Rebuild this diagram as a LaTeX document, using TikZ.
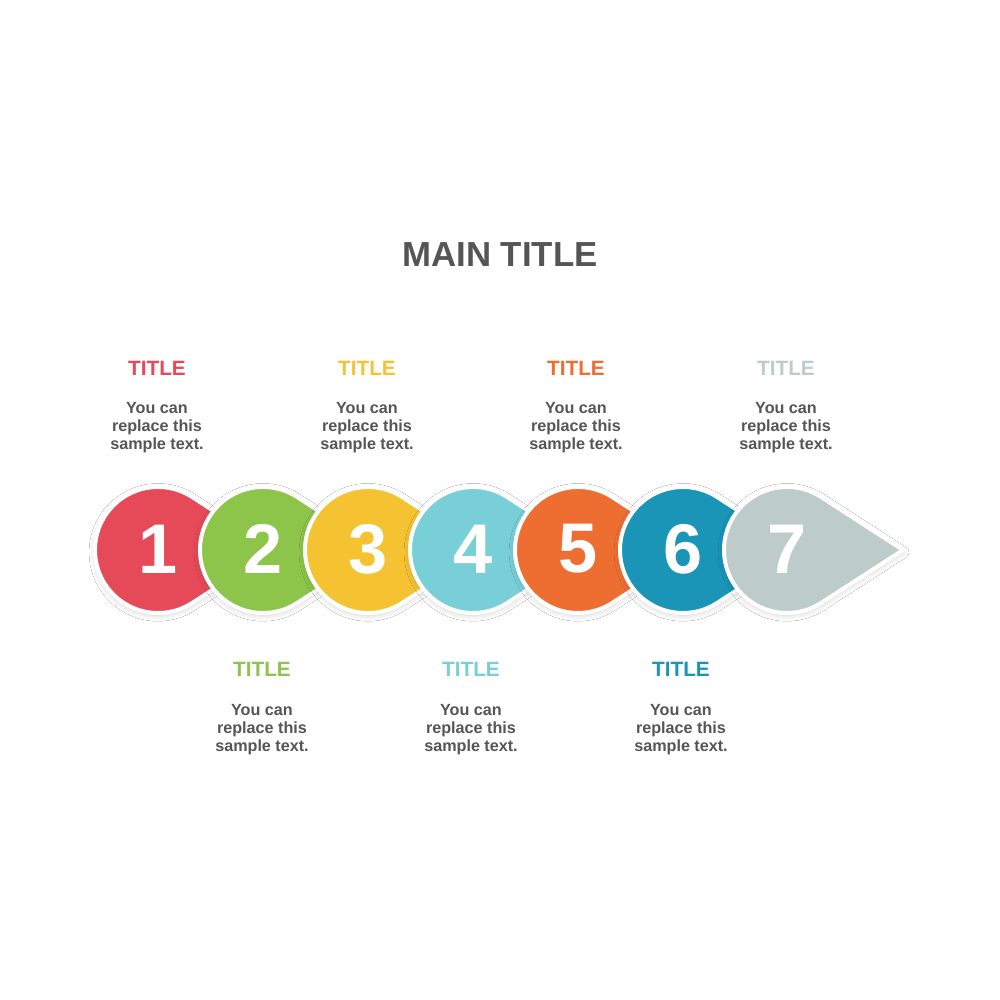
\documentclass[tikz,border=0pt]{standalone}
\usepackage{fontspec}
\setmainfont{Liberation Sans}
\usetikzlibrary{shadows.blur}
\definecolor{cred}{HTML}{E64A58}
\definecolor{cgreen}{HTML}{8DC44A}
\definecolor{cyellow}{HTML}{F5C332}
\definecolor{clblue}{HTML}{78CFD8}
\definecolor{corange}{HTML}{EE6E31}
\definecolor{cteal}{HTML}{1A94B7}
\definecolor{cgrey}{HTML}{BDCCCB}
\definecolor{txtgrey}{HTML}{555555}
\tikzset{
  drop/.style={draw=white, line width=3.4pt, line join=round,
    blur shadow={shadow xshift=0pt, shadow yshift=-2pt, shadow opacity=18, shadow blur radius=5pt, shadow blur steps=12}},
  numtext/.style={text=white, font=\bfseries\fontsize{60}{60}\selectfont, inner sep=0pt},
  ttl/.style={font=\bfseries\fontsize{17.7}{20}\selectfont, inner sep=0pt},
  body/.style={text=txtgrey, font=\bfseries\fontsize{13.8}{15.3}\selectfont, align=center, inner sep=0pt},
  maintitle/.style={text=txtgrey, font=\bfseries\fontsize{29.7}{32}\selectfont, inner sep=0pt}
}
\begin{document}
\begin{tikzpicture}[x=0.03cm,y=0.03cm]
\fill[white] (0,0) rectangle (1000,1000);
\useasboundingbox (0,0) rectangle (1000,1000);
\node[maintitle] (main) at (500,745) {MAIN TITLE};
% droplets
\foreach \i/\cx/\col in {1/158/cred,2/263/cgreen,3/368/cyellow,4/473/clblue,5/578/corange,6/683/cteal,7/787/cgrey}{
  \path[drop, fill=\col] (\cx,450) ++(57.1:63) arc[start angle=57.1, end angle=302.9, radius=63]
     -- (\cx+116,450) -- cycle;
  \node[numtext] (n\i) at (\cx,451) {\i};
}
% top texts
\foreach \i/\cx/\col in {1/157/cred,3/367/cyellow,5/576/corange,7/786/cgrey}{
  \node[ttl, text=\col] (t\i) at (\cx,632) {TITLE};
  \node[body] (d\i) at (\cx,572) {You can\\replace this\\sample text.};
}
% bottom texts
\foreach \i/\cx/\col in {2/262/cgreen,4/471/clblue,6/681/cteal}{
  \node[ttl, text=\col] (t\i) at (\cx,331) {TITLE};
  \node[body] (d\i) at (\cx,270) {You can\\replace this\\sample text.};
}
\end{tikzpicture}
\end{document}
